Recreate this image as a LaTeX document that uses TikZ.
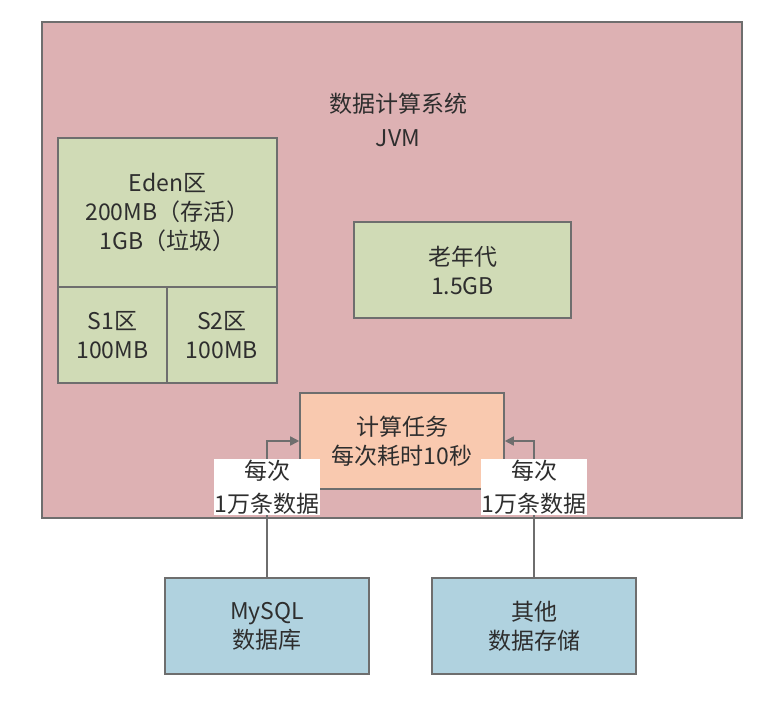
\documentclass[tikz,border=0pt]{standalone}
\usepackage{fontspec}
\setmainfont{Noto Sans CJK SC}
\usetikzlibrary{arrows.meta}
\definecolor{jvmpink}{HTML}{DDB1B3}
\definecolor{memgreen}{HTML}{D0DBB6}
\definecolor{taskpeach}{HTML}{F9C9AF}
\definecolor{storeblue}{HTML}{B0D2DF}
\definecolor{edgegray}{HTML}{6E6E6E}
\definecolor{txt}{HTML}{2E2E2E}
\begin{document}
\begin{tikzpicture}[x=1pt,y=-1pt,
  box/.style={draw=edgegray, line width=1.6pt, rectangle, inner sep=0pt, align=center,
    text=txt, font=\fontsize{23}{29}\selectfont},
  conn/.style={draw=edgegray, line width=1.6pt, -{Triangle[length=9pt,width=9pt]}},
  lbl/.style={fill=white, inner sep=1pt, align=center, text=txt, font=\fontsize{23}{33}\selectfont}]
\useasboundingbox[fill=white] (0,0) rectangle (781,722);
\node[box, fill=jvmpink, minimum width=700pt, minimum height=496pt] (jvm) at (392,270) {};
\node[align=center, text=txt, font=\fontsize{23}{34}\selectfont] (title) at (398,120) {数据计算系统\\JVM};
\node[box, fill=memgreen, minimum width=219pt, minimum height=149pt] (eden) at (167.5,212.5) {Eden区\\200MB（存活）\\1GB（垃圾）};
\node[box, fill=memgreen, minimum width=109pt, minimum height=96pt] (s1) at (112.5,335) {S1区\\100MB};
\node[box, fill=memgreen, minimum width=110pt, minimum height=96pt] (s2) at (222,335) {S2区\\100MB};
\node[box, fill=memgreen, minimum width=217pt, minimum height=96pt] (old) at (462.5,270) {老年代\\1.5GB};
\node[box, fill=taskpeach, minimum width=204pt, minimum height=96pt] (task) at (402,441) {计算任务\\每次耗时10秒};
\node[box, fill=storeblue, minimum width=204pt, minimum height=96pt] (mysql) at (267,626) {MySQL\\数据库};
\node[box, fill=storeblue, minimum width=204pt, minimum height=96pt] (other) at (534,626) {其他\\数据存储};
\draw[conn] (mysql.north) |- node[lbl, pos=0.33] (l1) {每次\\1万条数据} (task.west);
\draw[conn] (other.north) |- node[lbl, pos=0.33] (l2) {每次\\1万条数据} (task.east);
\end{tikzpicture}
\end{document}
